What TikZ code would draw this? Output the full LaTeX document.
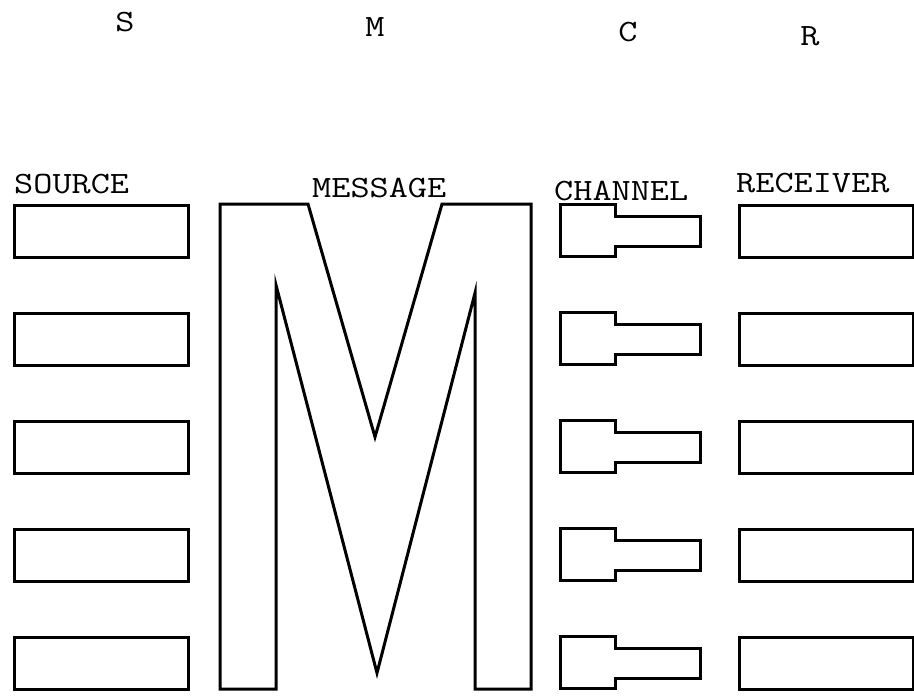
\documentclass[tikz,border=0pt]{standalone}
\usepackage{fontspec}
\newcommand\widetxt[1]{\scalebox{1.2}[1]{#1}}
\begin{document}
\begin{tikzpicture}[x=1pt,y=-1pt,
  box/.style={draw,line width=3pt,minimum width=174pt,minimum height=52pt,inner sep=0pt,anchor=north west},
  shp/.style={draw,line width=3pt,line join=miter},
  lbl/.style={font=\ttfamily\fontsize{31}{31}\selectfont,inner sep=0pt}]
\useasboundingbox (0,0) rectangle (914,696);
% column letters
\node[lbl] (ls) at (125,22) {\widetxt{S}};
\node[lbl] (lm) at (375,27) {\widetxt{M}};
\node[lbl] (lc) at (628,32) {\widetxt{C}};
\node[lbl] (lr) at (810,36) {\widetxt{R}};
% headings
\node[lbl,anchor=west] (hs) at (14,184) {\widetxt{SOURCE}};
\node[lbl,anchor=west] (hm) at (312,188) {\widetxt{MESSAGE}};
\node[lbl,anchor=west] (hc) at (554,191) {\widetxt{CHANNEL}};
\node[lbl,anchor=west] (hr) at (736,183) {\widetxt{RECEIVER}};
% rows
\foreach \i/\t in {1/204,2/312,3/420,4/528,5/636}{
  \node[box] (s\i) at (13,\t) {};
  \node[box] (r\i) at (738,\t) {};
  \draw[shp] (560,\t) -- (615,\t) -- (615,{\t+12}) -- (700,{\t+12}) -- (700,{\t+42})
    -- (615,{\t+42}) -- (615,{\t+52}) -- (560,{\t+52}) -- cycle;
}
% big M
\draw[shp] (220,204) -- (308,204) -- (375,437) -- (442,204) -- (531,204) -- (531,689)
  -- (475,689) -- (475,293) -- (377,673) -- (276,285) -- (276,689) -- (220,689) -- cycle;
\end{tikzpicture}
\end{document}
